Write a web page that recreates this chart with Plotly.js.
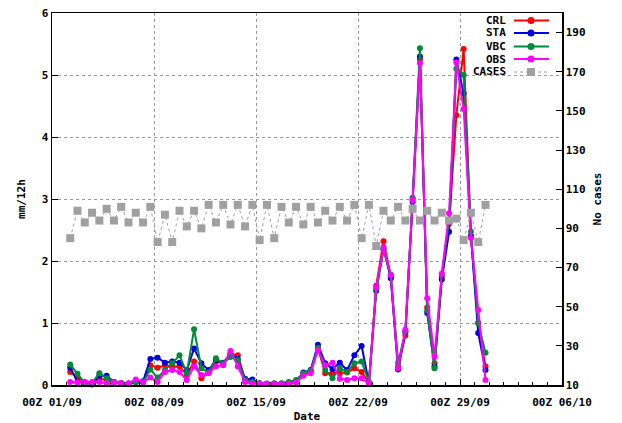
<!DOCTYPE html>
<html>
<head>
<meta charset="utf-8">
<script src="https://cdn.plot.ly/plotly-3.0.1.min.js"></script>
<style>html,body{margin:0;padding:0;background:#fff;}#chart{width:622px;height:423px;}</style>
</head>
<body>
<div id="chart"></div>
<script>
// ---- data (12-hourly, first point 02/09 06Z) ----
const startTime = '2010-09-02T06:00:00Z';
const stepHours = 12;
const crl = [0.21,0.12,0.04,0.03,0.10,0.08,0.04,0.03,0.02,0.05,0.05,0.32,0.28,0.32,0.30,0.30,0.16,0.38,0.11,0.20,
             0.38,0.35,0.50,0.48,0.08,0.04,0.02,0.02,0.02,0.02,0.03,0.05,0.18,0.22,0.60,0.19,0.19,0.19,0.20,0.27,
             0.21,0.03,1.60,2.32,1.75,0.30,0.80,3.00,5.25,1.25,0.35,1.75,2.60,4.35,5.42,2.40,1.00,0.30];
const sta = [0.28,0.05,0.04,0.01,0.15,0.15,0.05,0.03,0.02,0.05,0.06,0.42,0.44,0.36,0.38,0.36,0.24,0.59,0.35,0.24,
             0.40,0.36,0.50,0.42,0.10,0.09,0.03,0.02,0.02,0.02,0.03,0.06,0.20,0.24,0.65,0.35,0.26,0.36,0.24,0.48,
             0.63,0.03,1.52,2.20,1.72,0.25,0.85,2.95,5.30,1.16,0.30,1.70,2.47,5.25,4.70,2.40,0.84,0.24];
const vbc = [0.33,0.18,0.03,0.03,0.19,0.11,0.05,0.03,0.02,0.05,0.04,0.25,0.12,0.24,0.35,0.48,0.19,0.90,0.27,0.20,
             0.43,0.35,0.45,0.40,0.08,0.05,0.02,0.02,0.03,0.03,0.05,0.08,0.19,0.23,0.60,0.24,0.11,0.27,0.21,0.35,
             0.38,0.05,1.55,2.18,1.78,0.36,0.86,3.02,5.43,1.20,0.27,1.78,2.65,5.10,5.00,2.47,1.00,0.52];
const obs = [0.05,0.04,0.05,0.05,0.05,0.03,0.04,0.03,0.03,0.09,0.05,0.12,0.05,0.21,0.24,0.21,0.08,0.30,0.16,0.19,
             0.30,0.32,0.55,0.30,0.05,0.02,0.02,0.02,0.02,0.02,0.02,0.04,0.15,0.19,0.56,0.32,0.36,0.10,0.08,0.11,
             0.11,0.02,1.58,2.22,1.77,0.27,0.89,2.98,5.19,1.40,0.46,1.80,2.77,5.20,4.45,2.37,1.21,0.08];
const cases = [85,99,93,98,94,100,94,101,93,98,93,101,83,97,83,99,91,99,90,102,
               93,102,92,102,91,102,84,102,85,101,93,101,92,101,93,99,94,101,94,102,
               85,102,81,99,94,101,94,100,94,99,94,98,94,95,84,98,83,102];
const tickVals = ['2010-09-01','2010-09-08','2010-09-15','2010-09-22','2010-09-29','2010-10-06'];
const tickText = ['00Z 01/09','00Z 08/09','00Z 15/09','00Z 22/09','00Z 29/09','00Z 06/10'];
const seriesNames = ['CRL','STA','VBC','OBS','CASES'];
const seriesColors = ['#ff0000','#0000e0','#008a3a','#ff00ff','#a0a0a0'];

// time axis
const t0 = Date.parse(startTime);
const times = crl.map((_, i) => new Date(t0 + i * stepHours * 3600000).toISOString().slice(0,16).replace('T',' '));

const FONT = 'DejaVu Sans Mono, monospace';
const lineSeries = [crl, sta, vbc, obs];
const traces = lineSeries.map((s, k) => ({
  type: 'scatter', mode: 'lines+markers', x: times, y: s, name: seriesNames[k],
  line: {color: seriesColors[k], width: 2}, marker: {color: seriesColors[k], size: 6, symbol: 'circle'},
  showlegend: false, cliponaxis: false
}));
traces.push({
  type: 'scatter', mode: 'lines+markers', x: times, y: cases, name: 'CASES', yaxis: 'y2',
  line: {color: seriesColors[4], width: 1, dash: 'dot'},
  marker: {color: seriesColors[4], size: 8, symbol: 'square'}, showlegend: false
});

// custom gnuplot-style key (text left of sample)
const L = 52, R = 562, T = 13, B = 385;
const px = v => (v - L) / (R - L);
const py = v => (B - v) / (B - T);
const rows = [20.5, 33, 46.5, 59, 72];
const annotations = [], shapes = [];
rows.forEach((r, k) => {
  annotations.push({xref:'paper', yref:'paper', x: px(508), y: py(r), xanchor:'right', yanchor:'middle',
    text: seriesNames[k], showarrow:false, font:{family: FONT, size: 11, color:'#000', weight: 'bold'}});
  shapes.push({type:'line', xref:'paper', yref:'paper', x0: px(514), x1: px(549), y0: py(r), y1: py(r),
    line:{color: seriesColors[k], width: k === 4 ? 1 : 2, dash: k === 4 ? 'dot' : 'solid'}});
  shapes.push({type: k === 4 ? 'rect' : 'circle', xref:'paper', yref:'paper', xsizemode:'pixel', ysizemode:'pixel',
    xanchor: px(531), yanchor: py(r), x0: k === 4 ? -4 : -3.5, x1: k === 4 ? 4 : 3.5, y0: k === 4 ? -4 : -3.5, y1: k === 4 ? 4 : 3.5,
    fillcolor: seriesColors[k], line:{width:0}});
});

const tickFont = {family: FONT, size: 11, color: '#000', weight: 'bold'};
const layout = {
  width: 622, height: 423,
  margin: {l: L, r: 622 - R, t: T, b: 423 - B},
  paper_bgcolor: '#fff', plot_bgcolor: '#fff',
  showlegend: false,
  font: tickFont,
  xaxis: {
    type: 'date', range: ['2010-09-01', '2010-10-06'],
    tickvals: tickVals, ticktext: tickText, tickfont: tickFont, ticklabelstandoff: 6,
    ticks: 'inside', ticklen: 6, tickcolor: '#000', tickwidth: 1,
    minor: {dtick: 86400000, ticks: 'inside', ticklen: 3, tickcolor: '#000', showgrid: false},
    showline: true, linecolor: '#000', linewidth: 1.5, mirror: true,
    showgrid: true, gridcolor: '#999', griddash: 'dot', gridwidth: 1,
    zeroline: false,
    title: {text: 'Date', font: tickFont, standoff: 4}
  },
  yaxis: {
    range: [0, 6], dtick: 1, tickfont: tickFont,
    ticks: 'inside', ticklen: 6, tickcolor: '#000',
    showline: true, linecolor: '#000', linewidth: 1.5,
    showgrid: true, gridcolor: '#999', griddash: 'dot', gridwidth: 1,
    zeroline: false,
    title: {text: 'mm/12h', font: tickFont, standoff: 14}
  },
  yaxis2: {
    overlaying: 'y', side: 'right', range: [10, 200], tickvals: [10,30,50,70,90,110,130,150,170,190],
    tickfont: tickFont, ticks: 'inside', ticklen: 6, tickcolor: '#000',
    showline: true, linecolor: '#000', linewidth: 1.5, showgrid: false, zeroline: false,
    title: {text: 'No cases', font: tickFont, standoff: 8}
  },
  annotations: annotations,
  shapes: shapes
};
Plotly.newPlot('chart', traces, layout, {staticPlot: true, displayModeBar: false});
</script>
</body>
</html>
